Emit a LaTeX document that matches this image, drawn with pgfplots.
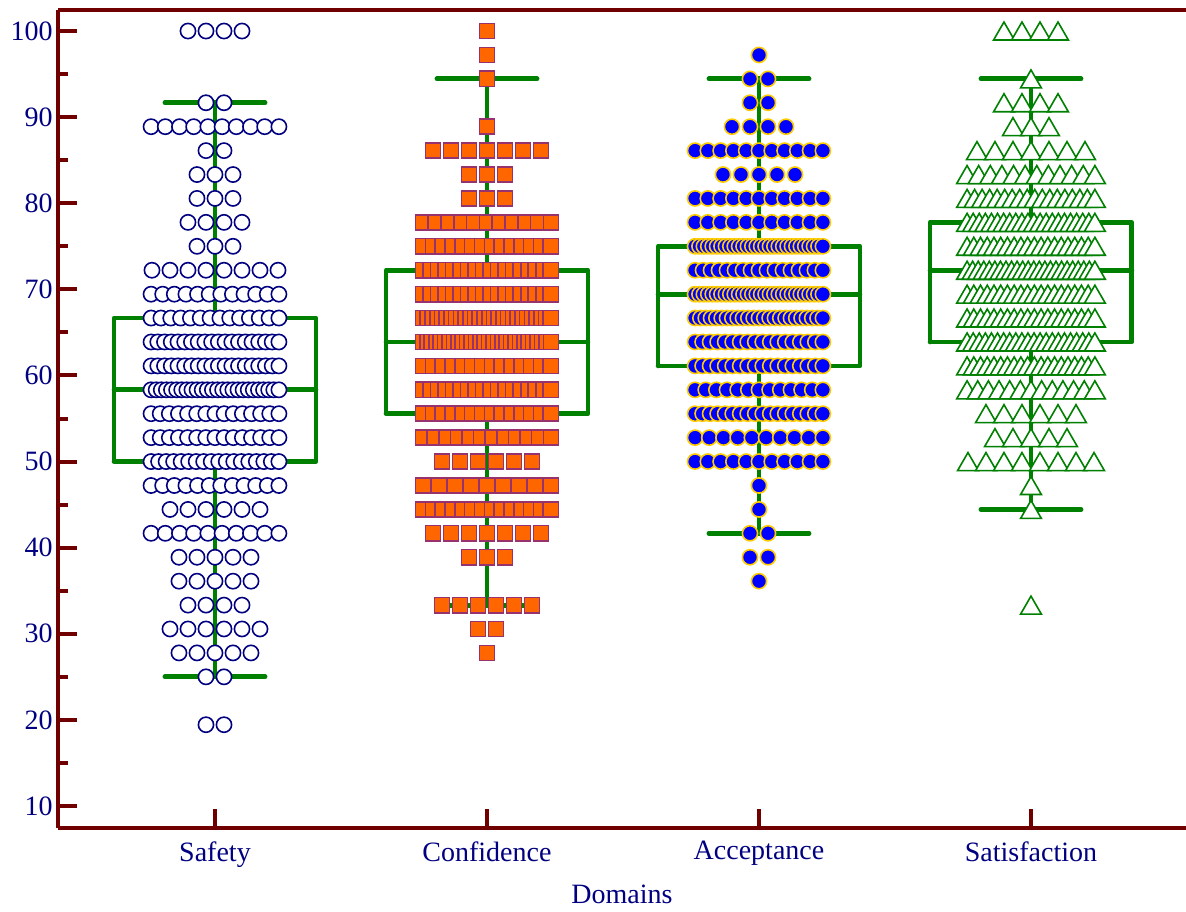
\documentclass[border=0pt]{standalone}
\usepackage{fontspec}
\setmainfont{Liberation Serif}
\usepackage{pgfplots}
\pgfplotsset{compat=1.18}

\definecolor{maroon}{RGB}{112,0,0}
\definecolor{navy}{RGB}{0,0,128}
\definecolor{boxgreen}{RGB}{0,128,0}
\definecolor{orng}{RGB}{255,102,0}
\definecolor{sqedge}{RGB}{150,50,110}
\definecolor{gold}{RGB}{255,204,0}

% frequency of each score value, per domain: value/count
\def\safetyrows{100/4, 91.67/2, 88.89/10, 86.11/2, 83.33/3, 80.56/3, 77.78/4, 75/3, 72.22/8, 69.44/12, 66.67/14, 63.89/20, 61.11/20, 58.33/26, 55.56/15, 52.78/15, 50/18, 47.22/12, 44.44/6, 41.67/10, 38.89/5, 36.11/5, 33.33/4, 30.56/6, 27.78/5, 25/2, 19.44/2}
\def\confidencerows{100/1, 97.22/1, 94.44/1, 88.89/1, 86.11/7, 83.33/3, 80.56/3, 77.78/11, 75/14, 72.22/18, 69.44/18, 66.67/28, 63.89/30, 61.11/14, 58.33/18, 55.56/14, 52.78/12, 50/6, 47.22/9, 44.44/14, 41.67/7, 38.89/3, 33.33/6, 30.56/2, 27.78/1}
\def\acceptancerows{97.22/1, 94.44/2, 91.67/2, 88.89/4, 86.11/11, 83.33/5, 80.56/11, 77.78/11, 75/30, 72.22/17, 69.44/30, 66.67/25, 63.89/18, 61.11/18, 58.33/13, 55.56/18, 52.78/10, 50/11, 47.22/1, 44.44/1, 41.67/2, 38.89/2, 36.11/1}
\def\satisfactionrows{100/4, 94.44/1, 91.67/4, 88.89/3, 86.11/7, 83.33/12, 80.56/18, 77.78/22, 75/20, 72.22/24, 69.44/20, 66.67/20, 63.89/22, 61.11/20, 58.33/13, 55.56/6, 52.78/5, 50/8, 47.22/1, 44.44/1, 33.33/1}

% dot-plot layout: a row of n equal values is spread side by side around the category
\newcommand\addrow[4]{%
  \pgfmathsetmacro\dd{min(0.0662,0.47/max(#4-1,1))}%
  \foreach \k in {1,...,#4}{%
    \pgfmathsetmacro\xx{#2+(\k-(#4+1)/2)*\dd}%
    \xdef#1{#1 (\xx,#3)}%
  }%
}
\newcommand\buildcat[3]{%
  \gdef#1{}%
  \foreach \yy/\nn in #3 {\addrow#1{#2}{\yy}{\nn}}%
}
\buildcat\cSafety{1}{\safetyrows}
\buildcat\cConfidence{2}{\confidencerows}
\buildcat\cAcceptance{3}{\acceptancerows}
\buildcat\cSatisfaction{4}{\satisfactionrows}

\begin{document}
\begin{tikzpicture}
\begin{axis}[
  name=ax, at={(0,0)}, anchor=south west,
  scale only axis, width=564pt, height=409pt,
  xmin=0.4228, xmax=4.570, ymin=7.445, ymax=102.44,
  axis x line*=box, axis y line*=left,
  axis line style={draw=maroon, line width=2pt},
  xtick={1,2,3,4},
  xticklabels={Safety,Confidence,Acceptance,Satisfaction},
  xtick pos=left,
  ytick={10,20,...,100},
  minor ytick={15,25,...,95},
  tick align=inside,
  major tick length=9.5pt, minor tick length=5pt,
  every tick/.style={draw=maroon, line width=2pt},
  /pgf/number format/assume math mode=true,
  ticklabel style={font=\fontsize{14}{16}\selectfont, text=navy},
  yticklabel style={inner sep=2.5pt},
  xticklabel style={inner sep=6.5pt},
  xlabel={Domains},
  xlabel style={font=\fontsize{14}{16}\selectfont, text=navy, at={(axis description cs:0.5,0)}, anchor=center, yshift=-33pt},
  boxst/.style={draw=boxgreen, line width=2.4pt, line join=round, line cap=round, mark=none},
]
% box plots
\addplot[boxst] coordinates {(0.629,50) (1.371,50) (1.371,66.67) (0.629,66.67) (0.629,50)};
\addplot[boxst] coordinates {(0.629,58.33) (1.371,58.33)};
\addplot[boxst] coordinates {(1,66.67) (1,91.67) (0.816,91.67) (1.184,91.67)};
\addplot[boxst] coordinates {(1,50) (1,25) (0.816,25) (1.184,25)};

\addplot[boxst] coordinates {(1.629,55.56) (2.371,55.56) (2.371,72.22) (1.629,72.22) (1.629,55.56)};
\addplot[boxst] coordinates {(1.629,63.89) (2.371,63.89)};
\addplot[boxst] coordinates {(2,72.22) (2,94.44) (1.816,94.44) (2.184,94.44)};
\addplot[boxst] coordinates {(2,55.56) (2,33.33) (1.816,33.33) (2.184,33.33)};

\addplot[boxst] coordinates {(2.629,61.11) (3.371,61.11) (3.371,75) (2.629,75) (2.629,61.11)};
\addplot[boxst] coordinates {(2.629,69.44) (3.371,69.44)};
\addplot[boxst] coordinates {(3,75) (3,94.44) (2.816,94.44) (3.184,94.44)};
\addplot[boxst] coordinates {(3,61.11) (3,41.67) (2.816,41.67) (3.184,41.67)};

\addplot[boxst] coordinates {(3.629,63.89) (4.371,63.89) (4.371,77.78) (3.629,77.78) (3.629,63.89)};
\addplot[boxst] coordinates {(3.629,72.22) (4.371,72.22)};
\addplot[boxst] coordinates {(4,77.78) (4,94.44) (3.816,94.44) (4.184,94.44)};
\addplot[boxst] coordinates {(4,63.89) (4,44.44) (3.816,44.44) (4.184,44.44)};

% dots
\edef\tmp{\noexpand\addplot[only marks, mark=*, mark size=3.8pt, mark options={fill=white, draw=navy, line width=0.8pt}] coordinates {\cSafety};}\tmp
\edef\tmp{\noexpand\addplot[only marks, mark=square*, mark size=3.8pt, mark options={fill=orng, draw=sqedge, line width=0.8pt}] coordinates {\cConfidence};}\tmp
\edef\tmp{\noexpand\addplot[only marks, mark=*, mark size=3.8pt, mark options={fill=blue, draw=gold, line width=0.8pt}] coordinates {\cAcceptance};}\tmp
\edef\tmp{\noexpand\addplot[only marks, mark=triangle*, mark size=6pt, mark options={fill=white, draw=boxgreen, line width=0.8pt, yshift=-1.5pt}] coordinates {\cSatisfaction};}\tmp
\end{axis}
\pgfresetboundingbox
\path[use as bounding box] (-29pt,-41.5pt) rectangle (564pt,414pt);
\end{tikzpicture}
\end{document}
